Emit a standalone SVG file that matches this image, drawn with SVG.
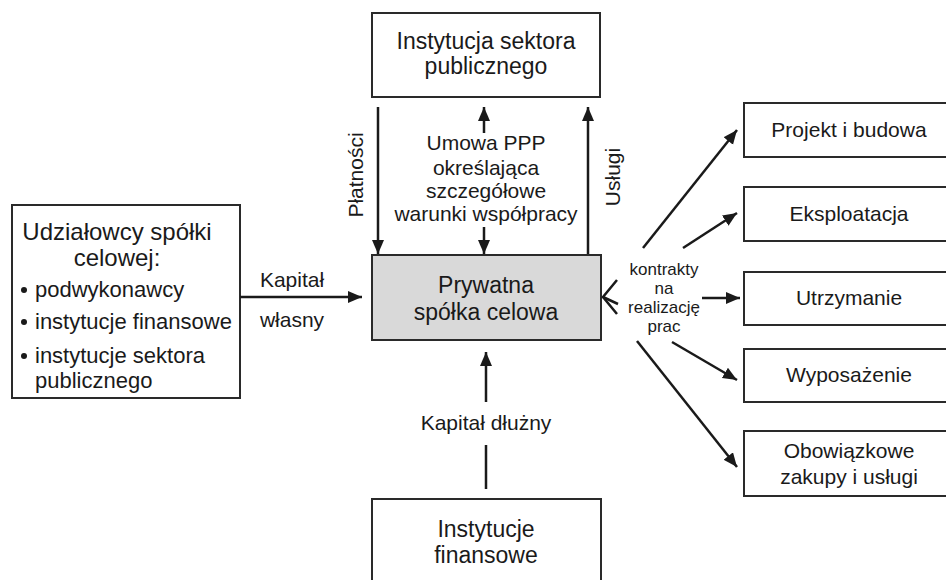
<svg xmlns="http://www.w3.org/2000/svg" width="946" height="580" viewBox="0 0 946 580">
  <defs>
    <marker id="head" markerUnits="userSpaceOnUse" markerWidth="16" markerHeight="14" refX="14" refY="6" orient="auto">
      <path d="M0,0 L14,6 L0,12 Z" fill="#1a1a1a"/>
    </marker>
  </defs>
  <style>
    .box { fill: #ffffff; stroke: #2a2a2a; stroke-width: 2; }
    .core { fill: #d9d9d9; stroke: #2a2a2a; stroke-width: 2; }
    .t { font-family: "Liberation Sans", Arial, sans-serif; fill: #1a1a1a; }
    .big { font-size: 23px; text-anchor: middle; }
    .mid { font-size: 21px; text-anchor: middle; }
    .lst { font-size: 22px; }
    .sm { font-size: 17px; text-anchor: middle; }
    .arr { stroke: #1a1a1a; stroke-width: 2.5; fill: none; marker-end: url(#head); }
    .ln { stroke: #1a1a1a; stroke-width: 2.5; fill: none; }
  </style>
  <rect width="946" height="580" fill="#ffffff"/>

  <!-- public sector institution -->
  <g id="public-institution">
    <rect class="box" x="372" y="13" width="228" height="84"/>
    <text class="t big" x="486" y="49">Instytucja sektora</text>
    <text class="t big" x="486" y="74">publicznego</text>
  </g>

  <!-- special purpose vehicle -->
  <g id="spv">
    <rect class="core" x="372" y="255" width="229" height="85"/>
    <text class="t big" x="486" y="293">Prywatna</text>
    <text class="t big" x="486" y="320">spółka celowa</text>
  </g>

  <!-- shareholders -->
  <g id="shareholders">
    <rect class="box" x="12" y="205" width="228" height="193"/>
    <text class="t big" x="117" y="240" style="font-size:24px">Udziałowcy spółki</text>
    <text class="t big" x="117" y="266" style="font-size:24px">celowej:</text>
    <circle cx="24" cy="290" r="3" fill="#1a1a1a"/>
    <text class="t lst" x="35" y="297">podwykonawcy</text>
    <circle cx="24" cy="322" r="3" fill="#1a1a1a"/>
    <text class="t lst" x="35" y="329">instytucje finansowe</text>
    <circle cx="24" cy="356" r="3" fill="#1a1a1a"/>
    <text class="t lst" x="35" y="363">instytucje sektora</text>
    <text class="t lst" x="35" y="388">publicznego</text>
  </g>

  <!-- financial institutions -->
  <g id="financial-institutions">
    <rect class="box" x="372" y="499" width="229" height="100"/>
    <text class="t big" x="486" y="537">Instytucje</text>
    <text class="t big" x="486" y="563">finansowe</text>
  </g>

  <!-- contractors -->
  <g id="design-build">
    <rect class="box" x="744" y="103" width="212" height="54"/>
    <text class="t mid" x="849" y="137">Projekt i budowa</text>
  </g>
  <g id="operation">
    <rect class="box" x="744" y="187" width="212" height="54"/>
    <text class="t mid" x="849" y="221">Eksploatacja</text>
  </g>
  <g id="maintenance">
    <rect class="box" x="744" y="272" width="212" height="53"/>
    <text class="t mid" x="849" y="305">Utrzymanie</text>
  </g>
  <g id="equipment">
    <rect class="box" x="744" y="349" width="212" height="53"/>
    <text class="t mid" x="849" y="382">Wyposażenie</text>
  </g>
  <g id="mandatory-purchases">
    <rect class="box" x="744" y="431" width="212" height="65"/>
    <text class="t mid" x="849" y="458">Obowiązkowe</text>
    <text class="t mid" x="849" y="484">zakupy i usługi</text>
  </g>

  <!-- connectors and their labels -->
  <g id="connectors">
    <!-- payments down -->
    <line class="arr" x1="378" y1="107" x2="378" y2="254"/>
    <text class="t mid" transform="translate(363,175) rotate(-90)">Płatności</text>
    <!-- PPP agreement, both ways -->
    <line class="arr" x1="484" y1="133" x2="484" y2="107"/>
    <line class="arr" x1="484" y1="227" x2="484" y2="254"/>
    <text class="t mid" x="486" y="150">Umowa PPP</text>
    <text class="t mid" x="486" y="175">określająca</text>
    <text class="t mid" x="486" y="198">szczegółowe</text>
    <text class="t mid" x="486" y="221">warunki współpracy</text>
    <!-- services up -->
    <line class="arr" x1="588" y1="254" x2="588" y2="107"/>
    <text class="t mid" transform="translate(620,177) rotate(-90)">Usługi</text>
    <!-- equity -->
    <line class="arr" x1="240" y1="297" x2="362" y2="297"/>
    <text class="t mid" x="292" y="287">Kapitał</text>
    <text class="t mid" x="292" y="327">własny</text>
    <!-- debt -->
    <line class="ln" x1="486" y1="489" x2="486" y2="445"/>
    <line class="arr" x1="486" y1="402" x2="486" y2="352"/>
    <text class="t mid" x="486" y="430">Kapitał dłużny</text>
    <!-- works contracts -->
    <text class="t sm" x="664" y="275">kontrakty</text>
    <text class="t sm" x="664" y="294">na</text>
    <text class="t sm" x="664" y="313">realizację</text>
    <text class="t sm" x="664" y="332">prac</text>
    <polyline class="ln" points="617,280 603,297 617,314"/>
    <line class="ln" x1="603" y1="297" x2="618" y2="304"/>
    <line class="arr" x1="643" y1="248" x2="737" y2="130"/>
    <line class="arr" x1="683" y1="248" x2="737" y2="213"/>
    <line class="arr" x1="702" y1="298" x2="740" y2="298"/>
    <line class="arr" x1="672" y1="342" x2="737" y2="380"/>
    <line class="arr" x1="637" y1="341" x2="737" y2="467"/>
  </g>
</svg>
